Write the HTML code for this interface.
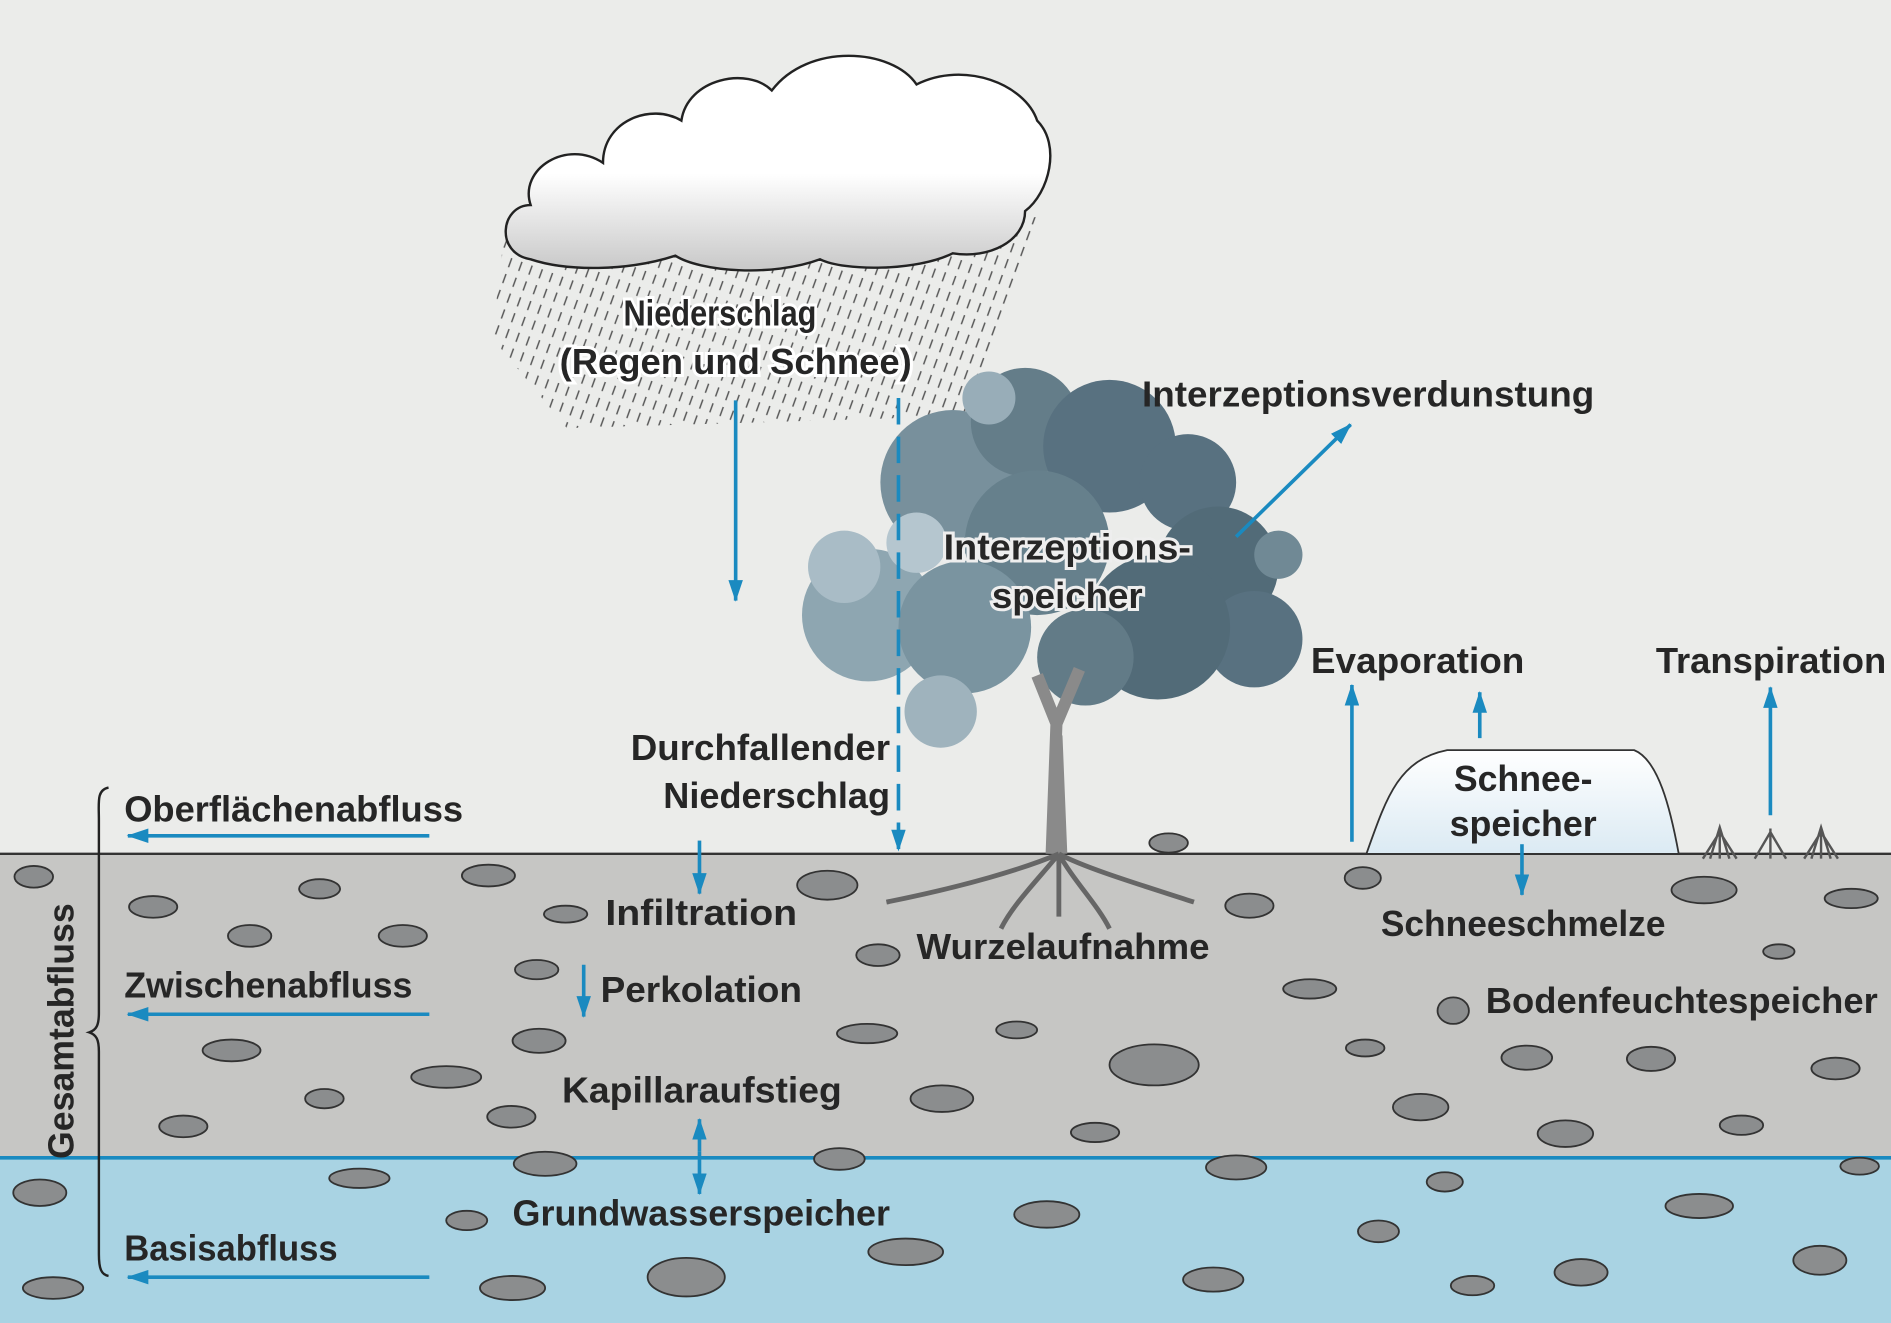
<!DOCTYPE html>
<html><head><meta charset="utf-8"><style>
html,body{margin:0;padding:0;background:#ebecea}
svg{display:block}
text{font-family:"Liberation Sans",sans-serif;font-weight:bold;fill:#262626;font-size:30px}
</style></head><body>
<svg width="1891" height="1323" viewBox="0 0 1568 1097" xmlns="http://www.w3.org/2000/svg">
<defs>
<marker id="ah" markerWidth="18" markerHeight="12" refX="17" refY="6" orient="auto" markerUnits="userSpaceOnUse" viewBox="0 0 18 12"><path d="M0,0 L18,6 L0,12 z" fill="#1a8ac0"/></marker>
<pattern id="rain" width="9" height="14" patternUnits="userSpaceOnUse" patternTransform="rotate(20)"><line x1="4" y1="0" x2="4" y2="8" stroke="#555" stroke-width="1.2"/></pattern>
<linearGradient id="snow" x1="0" y1="0" x2="0" y2="1"><stop offset="0" stop-color="#ffffff"/><stop offset="1" stop-color="#dbeaf3"/></linearGradient>
<linearGradient id="cl" x1="0" y1="0" x2="0" y2="1"><stop offset="0.55" stop-color="#ffffff"/><stop offset="1" stop-color="#c8c8c8"/></linearGradient>
</defs>
<rect width="1568" height="1097" fill="#ebecea"/>
<rect y="708" width="1568" height="252" fill="#c6c6c4"/>
<rect y="960" width="1568" height="137" fill="#a9d3e3"/>
<line x1="0" y1="708" x2="1568" y2="708" stroke="#333" stroke-width="2"/>
<line x1="0" y1="960" x2="1568" y2="960" stroke="#1a8ac0" stroke-width="3"/>
<polygon points="418,195 860,180 800,345 470,355 408,280" fill="url(#rain)"/>
<g fill="url(#cl)" stroke="#222" stroke-width="2">
<path d="M440,215 C410,210 415,170 440,170 C430,140 470,115 500,135 C500,100 540,85 565,100 C570,65 620,55 640,75 C670,35 740,40 760,70 C800,50 850,70 860,100 C880,120 870,160 850,175 C850,200 820,215 790,210 C760,225 700,225 680,215 C640,230 580,225 560,212 C520,225 470,225 440,215 z"/>
</g>
<g>
<circle cx="720" cy="510" r="55" fill="#8ea6b1"/>
<circle cx="700" cy="470" r="30" fill="#a9bcc6"/>
<circle cx="790" cy="400" r="60" fill="#78909c"/>
<circle cx="850" cy="350" r="45" fill="#647d89"/>
<circle cx="920" cy="370" r="55" fill="#587180"/>
<circle cx="985" cy="400" r="40" fill="#587180"/>
<circle cx="1010" cy="470" r="50" fill="#526b78"/>
<circle cx="1040" cy="530" r="40" fill="#587180"/>
<circle cx="960" cy="520" r="60" fill="#526b78"/>
<circle cx="860" cy="450" r="60" fill="#66808c"/>
<circle cx="800" cy="520" r="55" fill="#7a94a0"/>
<circle cx="780" cy="590" r="30" fill="#9fb3bd"/>
<circle cx="900" cy="545" r="40" fill="#627b87"/>
<circle cx="760" cy="450" r="25" fill="#b5c6cf"/>
<circle cx="820" cy="330" r="22" fill="#98adb8"/>
<circle cx="1060" cy="460" r="20" fill="#708995"/>
</g>
<path d="M872,708 L876,600 L860,560 M876,600 L895,555 M876,610 L880,708" stroke="#8a8a8a" stroke-width="10" fill="none"/>
<path d="M878,708 C850,720 800,735 735,748 M878,708 C900,720 950,735 990,748 M878,708 C860,730 840,750 830,770 M878,708 C890,730 910,750 920,770 M878,708 L878,760" stroke="#666" stroke-width="4" fill="none"/>
<path d="M1133,708 C1150,660 1160,630 1200,622 L1355,622 C1375,630 1385,670 1392,708 z" fill="url(#snow)" stroke="#333" stroke-width="1.5"/>
<g stroke="#555" stroke-width="2" fill="none">
<path d="M1412,712 l14,-22 l14,22 M1418,712 l8,-26 l8,26 M1468,712 l0,-25 M1455,712 l13,-22 l13,22 M1496,712 l14,-22 l14,22 M1502,712 l8,-26 l8,26 M1426,712 l0,-25 M1510,712 l0,-25"/>
</g>
<g fill="#8b8d8e" stroke="#333" stroke-width="1.5">
<ellipse cx="28" cy="727" rx="16" ry="9"/><ellipse cx="127" cy="752" rx="20" ry="9"/><ellipse cx="207" cy="776" rx="18" ry="9"/><ellipse cx="265" cy="737" rx="17" ry="8"/><ellipse cx="334" cy="776" rx="20" ry="9"/><ellipse cx="405" cy="726" rx="22" ry="9"/><ellipse cx="469" cy="758" rx="18" ry="7"/><ellipse cx="445" cy="804" rx="18" ry="8"/><ellipse cx="686" cy="734" rx="25" ry="12"/><ellipse cx="728" cy="792" rx="18" ry="9"/><ellipse cx="969" cy="699" rx="16" ry="8"/><ellipse cx="1036" cy="751" rx="20" ry="10"/><ellipse cx="1130" cy="728" rx="15" ry="9"/><ellipse cx="1413" cy="738" rx="27" ry="11"/><ellipse cx="1535" cy="745" rx="22" ry="8"/><ellipse cx="1475" cy="789" rx="13" ry="6"/><ellipse cx="1086" cy="820" rx="22" ry="8"/><ellipse cx="1205" cy="838" rx="13" ry="11"/><ellipse cx="1132" cy="869" rx="16" ry="7"/><ellipse cx="1266" cy="877" rx="21" ry="10"/><ellipse cx="1369" cy="878" rx="20" ry="10"/><ellipse cx="1522" cy="886" rx="20" ry="9"/><ellipse cx="957" cy="883" rx="37" ry="17"/><ellipse cx="843" cy="854" rx="17" ry="7"/><ellipse cx="719" cy="857" rx="25" ry="8"/><ellipse cx="781" cy="911" rx="26" ry="11"/><ellipse cx="908" cy="939" rx="20" ry="8"/><ellipse cx="1178" cy="918" rx="23" ry="11"/><ellipse cx="1298" cy="940" rx="23" ry="11"/><ellipse cx="1444" cy="933" rx="18" ry="8"/><ellipse cx="447" cy="863" rx="22" ry="10"/><ellipse cx="370" cy="893" rx="29" ry="9"/><ellipse cx="424" cy="926" rx="20" ry="9"/><ellipse cx="192" cy="871" rx="24" ry="9"/><ellipse cx="269" cy="911" rx="16" ry="8"/><ellipse cx="152" cy="934" rx="20" ry="9"/><ellipse cx="33" cy="989" rx="22" ry="11"/><ellipse cx="298" cy="977" rx="25" ry="8"/><ellipse cx="387" cy="1012" rx="17" ry="8"/><ellipse cx="452" cy="965" rx="26" ry="10"/><ellipse cx="696" cy="961" rx="21" ry="9"/><ellipse cx="751" cy="1038" rx="31" ry="11"/><ellipse cx="868" cy="1007" rx="27" ry="11"/><ellipse cx="1025" cy="968" rx="25" ry="10"/><ellipse cx="1006" cy="1061" rx="25" ry="10"/><ellipse cx="1143" cy="1021" rx="17" ry="9"/><ellipse cx="1198" cy="980" rx="15" ry="8"/><ellipse cx="1409" cy="1000" rx="28" ry="10"/><ellipse cx="1542" cy="967" rx="16" ry="7"/><ellipse cx="1311" cy="1055" rx="22" ry="11"/><ellipse cx="1509" cy="1045" rx="22" ry="12"/><ellipse cx="569" cy="1059" rx="32" ry="16"/><ellipse cx="425" cy="1068" rx="27" ry="10"/><ellipse cx="44" cy="1068" rx="25" ry="9"/><ellipse cx="1221" cy="1066" rx="18" ry="8"/>
</g>
<g stroke="#1a8ac0" stroke-width="3" fill="none" marker-end="url(#ah)">
<line x1="610" y1="332" x2="610" y2="498"/>
<line x1="745" y1="330" x2="745" y2="705" stroke-dasharray="22,10"/>
<line x1="1025" y1="445" x2="1120" y2="352"/>
<line x1="1121" y1="698" x2="1121" y2="568"/>
<line x1="1227" y1="612" x2="1227" y2="574"/>
<line x1="1468" y1="676" x2="1468" y2="570"/>
<line x1="580" y1="697" x2="580" y2="741"/>
<line x1="484" y1="800" x2="484" y2="843"/>
<line x1="580" y1="955" x2="580" y2="990"/>
<line x1="580" y1="955" x2="580" y2="928"/>
<line x1="1262" y1="700" x2="1262" y2="742"/>
<line x1="356" y1="693" x2="106" y2="693"/>
<line x1="356" y1="841" x2="106" y2="841"/>
<line x1="356" y1="1059" x2="106" y2="1059"/>
</g>
<path d="M90,653 C80,655 82,665 82,680 L82,840 C82,850 80,854 74,856 C80,858 82,862 82,872 L82,1040 C82,1052 84,1057 90,1058" stroke="#222" stroke-width="2" fill="none"/>
<g paint-order="stroke" stroke="#ebecea" stroke-width="0">
<text x="597" y="270" text-anchor="middle" textLength="160" lengthAdjust="spacingAndGlyphs" stroke="#fff" stroke-width="5">Niederschlag</text>
<text x="610" y="310" text-anchor="middle" textLength="292" lengthAdjust="spacingAndGlyphs" stroke="#fff" stroke-width="5">(Regen und Schnee)</text>
<text x="947" y="337" textLength="375" lengthAdjust="spacingAndGlyphs">Interzeptionsverdunstung</text>
<text x="885" y="464" text-anchor="middle" textLength="205" lengthAdjust="spacingAndGlyphs" stroke="#eee" stroke-width="5">Interzeptions-</text>
<text x="885" y="504" text-anchor="middle" textLength="125" lengthAdjust="spacingAndGlyphs" stroke="#eee" stroke-width="5">speicher</text>
<text x="1087" y="558" textLength="177" lengthAdjust="spacingAndGlyphs">Evaporation</text>
<text x="1373" y="558" textLength="191" lengthAdjust="spacingAndGlyphs">Transpiration</text>
<text x="738" y="630" text-anchor="end" textLength="215" lengthAdjust="spacingAndGlyphs">Durchfallender</text>
<text x="738" y="670" text-anchor="end" textLength="188" lengthAdjust="spacingAndGlyphs">Niederschlag</text>
<text x="103" y="681" textLength="281" lengthAdjust="spacingAndGlyphs">Oberflächenabfluss</text>
<text x="1263" y="656" text-anchor="middle" textLength="115" lengthAdjust="spacingAndGlyphs">Schnee-</text>
<text x="1263" y="693" text-anchor="middle" textLength="122" lengthAdjust="spacingAndGlyphs">speicher</text>
<text x="502" y="767" textLength="159" lengthAdjust="spacingAndGlyphs">Infiltration</text>
<text x="760" y="795" textLength="243" lengthAdjust="spacingAndGlyphs">Wurzelaufnahme</text>
<text x="1145" y="776" textLength="236" lengthAdjust="spacingAndGlyphs">Schneeschmelze</text>
<text x="103" y="827" textLength="239" lengthAdjust="spacingAndGlyphs">Zwischenabfluss</text>
<text x="498" y="831" textLength="167" lengthAdjust="spacingAndGlyphs">Perkolation</text>
<text x="1232" y="840" textLength="325" lengthAdjust="spacingAndGlyphs">Bodenfeuchtespeicher</text>
<text x="466" y="914" textLength="232" lengthAdjust="spacingAndGlyphs">Kapillaraufstieg</text>
<text x="425" y="1016" textLength="313" lengthAdjust="spacingAndGlyphs">Grundwasserspeicher</text>
<text x="103" y="1045" textLength="177" lengthAdjust="spacingAndGlyphs">Basisabfluss</text>
<text transform="translate(61,855) rotate(-90)" text-anchor="middle" textLength="212" lengthAdjust="spacingAndGlyphs">Gesamtabfluss</text>
</g>
</svg>
</body></html>
